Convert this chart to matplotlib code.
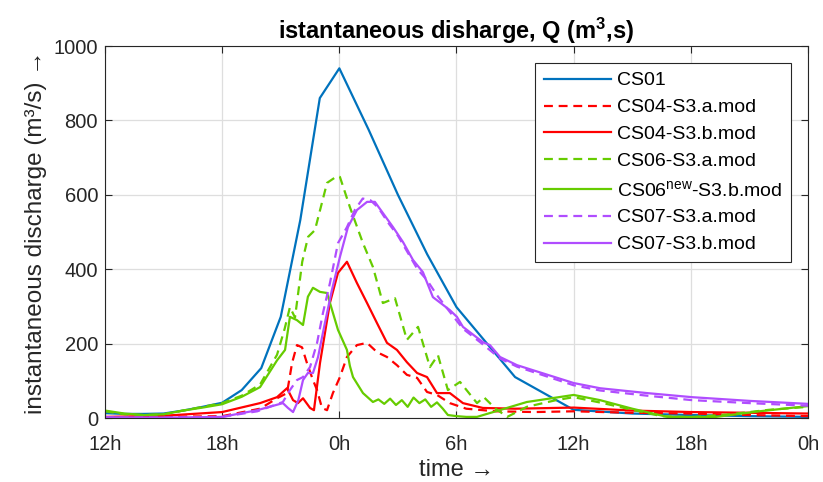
import matplotlib
matplotlib.use("Agg")
import matplotlib.pyplot as plt

plt.rcParams["font.family"] = ["Liberation Sans", "DejaVu Sans"]
plt.rcParams["mathtext.fontset"] = "custom"
plt.rcParams["mathtext.rm"] = "Liberation Sans"
plt.rcParams["mathtext.bf"] = "Liberation Sans:bold"
plt.rcParams["mathtext.it"] = "Liberation Sans:italic"

# time in hours counted from 12h of the first day
cs01_t = [0, 1, 2, 3, 4, 5, 6, 7, 8, 9, 10, 11, 12, 13.5, 15, 16.5, 18, 21, 24, 27, 30, 33, 36]
cs01_q = [13, 11, 11, 12, 20, 30, 41, 75, 134, 272, 532, 860, 940, 775, 600, 440, 298, 110, 22, 12, 8, 5, 3]

cs04a_t = [0, 3, 6, 7.94, 8.81, 9.32, 9.58, 9.83, 10.09, 10.34, 10.65, 10.86, 11.11, 11.37, 11.67,
           12.03, 12.39, 12.9, 13.42, 13.93, 14.44, 14.95, 15.46, 15.98, 16.49, 17.0, 17.66,
           18.5, 20, 22, 24, 27, 30, 33, 36]
cs04a_q = [2, 3, 5, 25, 53, 67, 148, 196, 190, 148, 102, 75, 27, 21, 67,
           110, 164, 196, 202, 177, 164, 142, 116, 108, 70, 62, 40,
           25, 18, 16, 18, 14, 12, 8, 5]

cs04b_t = [0, 3, 6, 7.94, 8.81, 9.32, 9.63, 9.88, 10.14, 10.5, 10.7, 11.01, 11.52, 11.93, 12.39,
           12.9, 13.42, 13.93, 14.44, 14.95, 15.46, 15.98, 16.49, 17.0, 17.66, 18.33, 19.35,
           21, 24, 27, 30, 33, 36]
cs04b_q = [3, 6, 16, 40, 56, 80, 48, 40, 53, 27, 21, 148, 310, 390, 420,
           363, 309, 255, 202, 183, 150, 121, 110, 67, 67, 40, 27,
           25, 28, 20, 16, 14, 12]

cs06a_t = [0, 1, 2, 3, 4, 5, 6, 7, 7.94, 8.81, 9.2, 9.47, 9.73, 10.1, 10.4, 10.75, 11.37, 11.88,
           12.03, 12.54, 13.21, 13.72, 14.23, 14.85, 15.46, 16.03, 16.64, 17.05, 17.56, 18.18,
           19.05, 19.4, 20.0, 20.6, 21.6, 23.1, 24, 25.5, 27, 28.5, 30, 32, 34, 36]
cs06a_q = [18, 10, 8, 10, 20, 30, 40, 60, 90, 170, 240, 298, 270, 420, 487, 505, 632, 650,
           648, 567, 470, 406, 309, 322, 210, 245, 137, 169, 75, 97,
           40, 56, 25, 3, 30, 48, 56, 40, 22, 5, 2, 10, 22, 30]

cs06b_t = [0, 1, 2, 3, 4, 5, 6, 7, 7.94, 8.81, 9.22, 9.47, 9.83, 10.14, 10.39, 10.65, 11.01, 11.37,
           11.93, 12.39, 12.54, 12.7, 13.21, 13.72, 14.0, 14.3, 14.6, 14.9, 15.2, 15.5, 15.8, 16.1,
           16.4, 16.7, 17.0, 17.3, 17.56, 18.0, 18.5, 19.05, 20.2, 21.6, 24, 25.35, 27, 28.8,
           31.3, 33.5, 36]
cs06b_q = [20, 12, 8, 10, 20, 28, 37, 57, 83, 155, 183, 272, 263, 250, 326, 350, 339, 336,
           237, 183, 140, 110, 67, 43, 50, 38, 52, 35, 48, 30, 55, 40,
           50, 30, 42, 25, 8, 5, 3, 3, 21, 43, 62, 48, 25, 3,
           3, 18, 32]

cs07a_t = [0, 3, 6, 7.8, 9.11, 9.47, 9.83, 10.14, 10.5, 10.86, 11.16, 11.52, 11.93, 12.39, 12.8,
           13.2, 13.6, 14.0, 14.5, 15.0, 15.5, 16.0, 16.5, 17.0, 17.66, 18.33, 19.35, 20.23,
           21.1, 24, 25.35, 27.75, 30.06, 33, 36]
cs07a_q = [1, 1, 3, 18, 43, 75, 102, 110, 137, 202, 282, 363, 470, 513, 560,
           590, 585, 565, 525, 490, 445, 400, 370, 330, 285, 240, 198, 160,
           138, 88, 74, 60, 48, 40, 33]

cs07b_t = [0, 3, 6, 7.8, 9.11, 9.37, 9.63, 9.9, 10.14, 10.39, 10.65, 10.91, 11.26, 11.62, 12.03,
           12.44, 12.9, 13.42, 13.82, 14.23, 14.75, 15.26, 15.77, 16.28, 16.79, 17.66, 18.02,
           18.33, 19.35, 19.71, 20.23, 21.1, 24, 25.35, 27.75, 30.06, 33, 36]
cs07b_q = [2, 1, 3, 21, 40, 27, 16, 48, 102, 121, 121, 164, 255, 344, 433,
           513, 559, 581, 581, 551, 513, 473, 425, 392, 325, 290, 272,
           245, 204, 196, 164, 142, 94, 80, 67, 56, 46, 38]

tick_pos = [0, 6, 12, 18, 24, 30, 36]
tick_lab = ["12h", "18h", "0h", "6h", "12h", "18h", "0h"]

blue = "#0072BD"
red = "#FF0000"
green = "#66CC00"
purple = "#B04DFF"
dash = (0, (4, 2.6))

fig = plt.figure(figsize=(8.23, 4.82), dpi=100)
ax = fig.add_axes([105 / 823, 64 / 482, 703 / 823, 372 / 482])

ax.plot(cs01_t, cs01_q, color=blue, lw=1.6, label="CS01")
ax.plot(cs04a_t, cs04a_q, color=red, lw=1.6, ls=dash, label="CS04-S3.a.mod")
ax.plot(cs04b_t, cs04b_q, color=red, lw=1.6, label="CS04-S3.b.mod")
ax.plot(cs06a_t, cs06a_q, color=green, lw=1.6, ls=dash, label="CS06-S3.a.mod")
ax.plot(cs06b_t, cs06b_q, color=green, lw=1.6, label="CS06$^{\\mathrm{new}}$-S3.b.mod")
ax.plot(cs07a_t, cs07a_q, color=purple, lw=1.6, ls=dash, label="CS07-S3.a.mod")
ax.plot(cs07b_t, cs07b_q, color=purple, lw=1.6, label="CS07-S3.b.mod")

ax.set_xlim(0, 36)
ax.set_ylim(0, 1000)
ax.set_xticks(tick_pos)
ax.set_xticklabels(tick_lab)
ax.set_yticks([0, 200, 400, 600, 800, 1000])
ax.tick_params(direction="in", top=True, right=True, length=5, labelsize=14.5,
               colors="#262626", pad=5)
ax.tick_params(axis="x", pad=12)
ax.grid(True, color="#dedede", lw=0.9)
ax.set_axisbelow(True)
for s in ax.spines.values():
    s.set_color("#262626")
    s.set_linewidth(0.8)

ax.set_title("istantaneous disharge, Q (m$^{\\mathbf{3}}$,s)", fontsize=17,
             fontweight="bold", pad=5)
ax.set_xlabel("time \u2192", fontsize=17, color="#262626", labelpad=4)
ax.set_ylabel("instantaneous discharge (m\u00b3/s) \u2192", fontsize=17.5,
              color="#262626", labelpad=5)

leg = ax.legend(loc="upper right", bbox_to_anchor=(0.9758, 0.9543), borderaxespad=0,
                fontsize=14, handlelength=3.45, handletextpad=0.3, frameon=True,
                fancybox=False, framealpha=1, edgecolor="#262626", borderpad=0.45,
                labelspacing=0.48)
leg.get_frame().set_linewidth(0.8)

fig.savefig("out.png", dpi=100)
